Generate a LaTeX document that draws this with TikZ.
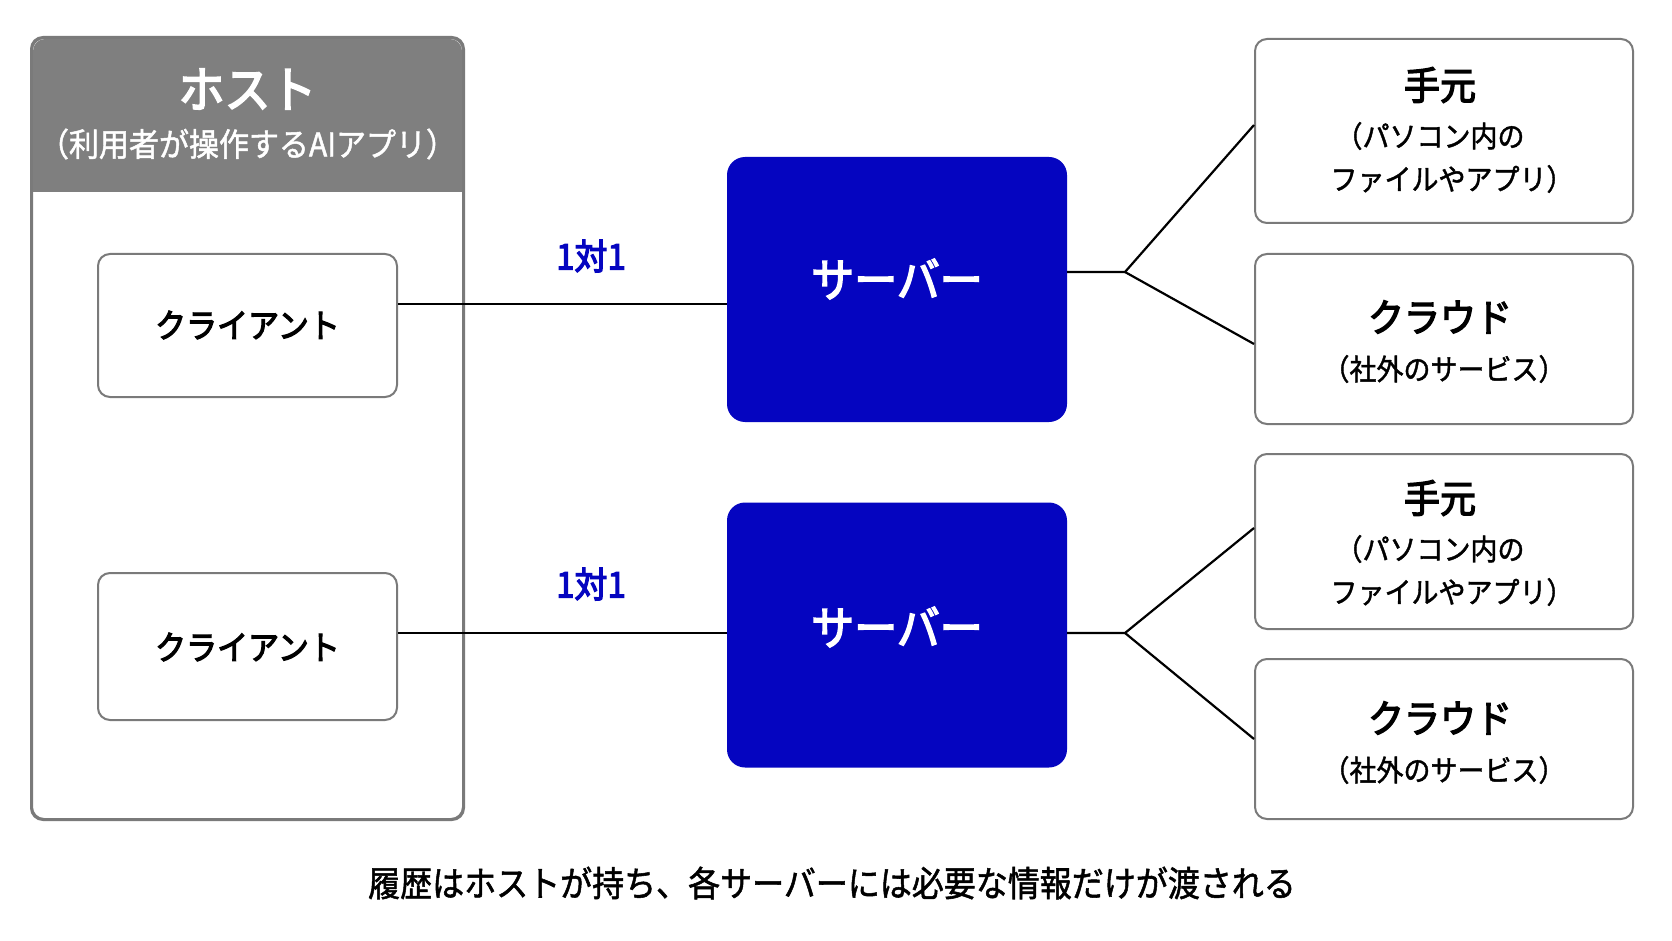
\documentclass[tikz,border=0pt]{standalone}
\usepackage{fontspec}
\setmainfont{Noto Sans CJK JP}
\newfontfamily\medf[FakeBold=3.5]{Noto Sans CJK JP}
\newfontfamily\semif[FakeBold=1.5]{Noto Sans CJK JP}
\definecolor{hostgray}{HTML}{7F7F7F}
\definecolor{boxgray}{HTML}{7A7A7A}
\definecolor{srvblue}{HTML}{0505C0}
\newcommand{\fs}[1]{\fontsize{#1}{#1}\selectfont}
\begin{document}
\begin{tikzpicture}[x=1pt,y=-1pt,
  wbox/.style={draw=boxgray,line width=2pt,rounded corners=12pt,fill=white,inner sep=0pt},
  srv/.style={fill=srvblue,rounded corners=18pt,inner sep=0pt,minimum width=340pt,minimum height=265pt},
  conn/.style={draw=black,line width=2.2pt},
  lbl/.style={inner sep=0pt,anchor=center}]
\useasboundingbox[fill=white] (0,0) rectangle (1672,941);
% host
\node[wbox,minimum width=431pt,minimum height=781pt] (host) at (247.5,428.5) {};
\fill[hostgray] (33,192) [rounded corners=12pt] -- (33,39) -- (462,39) [sharp corners] -- (462,192) -- cycle;
\draw[boxgray,line width=2pt,rounded corners=12pt] (host.north west) rectangle (host.south east);
\node[lbl,text=white,yscale=1.08] (hosttitle) at (247.5,89) {\fs{46}\medf ホスト};
\node[lbl,text=white,yscale=1.08] (hostsub) at (247.5,144) {\fs{30}\semif（利用者が操作するAIアプリ）};
% clients
\node[wbox,minimum width=299pt,minimum height=143pt] (c1) at (247.5,325.5) {};
\node[lbl,yscale=1.08] (c1t) at (247.5,325) {\fs{31}\medf クライアント};
\node[wbox,minimum width=299pt,minimum height=147pt] (c2) at (247.5,646.5) {};
\node[lbl,yscale=1.08] (c2t) at (247.5,647) {\fs{31}\medf クライアント};
% servers
\node[srv] (s1) at (897,289.5) {};
\node[lbl,text=white,yscale=1.08] (s1t) at (897,279) {\fs{43}\medf サーバー};
\node[srv] (s2) at (897,635) {};
\node[lbl,text=white,yscale=1.08] (s2t) at (897,627) {\fs{43}\medf サーバー};
% labels
\node[lbl,text=srvblue,yscale=1.08] (l1) at (591,256) {\fs{33}\medf 1対1};
\node[lbl,text=srvblue,yscale=1.08] (l2) at (591,584) {\fs{33}\medf 1対1};
% right boxes
\node[wbox,minimum width=378pt,minimum height=184pt] (r1) at (1444,131) {};
\node[lbl,yscale=1.08] (r1a) at (1440,85) {\fs{36}\medf 手元};
\node[lbl,yscale=1.08] (r1b) at (1430,136) {\fs{27}\semif（パソコン内の};
\node[lbl,yscale=1.08] (r1c) at (1452,179) {\fs{27}\semif ファイルやアプリ）};
\node[wbox,minimum width=378pt,minimum height=170pt] (r2) at (1444,339) {};
\node[lbl,yscale=1.08] (r2a) at (1440,317) {\fs{36}\medf クラウド};
\node[lbl,yscale=1.08] (r2b) at (1444,369) {\fs{27}\semif（社外のサービス）};
\node[wbox,minimum width=378pt,minimum height=175pt] (r3) at (1444,541.5) {};
\node[lbl,yscale=1.08] (r3a) at (1440,498) {\fs{36}\medf 手元};
\node[lbl,yscale=1.08] (r3b) at (1430,549) {\fs{27}\semif（パソコン内の};
\node[lbl,yscale=1.08] (r3c) at (1452,592) {\fs{27}\semif ファイルやアプリ）};
\node[wbox,minimum width=378pt,minimum height=160pt] (r4) at (1444,739) {};
\node[lbl,yscale=1.08] (r4a) at (1440,718) {\fs{36}\medf クラウド};
\node[lbl,yscale=1.08] (r4b) at (1444,770) {\fs{27}\semif（社外のサービス）};
% connectors
\coordinate (k1) at (0,304);
\coordinate (k2) at (0,633);
\draw[conn] (c1.east |- k1) -- (s1.west |- k1);
\draw[conn] (c2.east |- k2) -- (s2.west |- k2);
\coordinate (b1) at (1125,272);
\coordinate (b2) at (1125,633);
\coordinate (e1) at (0,125);
\coordinate (e2) at (0,344);
\coordinate (e3) at (0,528);
\coordinate (e4) at (0,739);
\draw[conn] (s1.east |- b1) -- (b1) -- (r1.west |- e1);
\draw[conn] (b1) -- (r2.west |- e2);
\draw[conn] (s2.east |- b2) -- (b2) -- (r3.west |- e3);
\draw[conn] (b2) -- (r4.west |- e4);
% caption
\node[lbl,yscale=1.1] (cap) at (832,883) {\fs{32}\semif 履歴はホストが持ち、各サーバーには必要な情報だけが渡される};
\end{tikzpicture}
\end{document}
